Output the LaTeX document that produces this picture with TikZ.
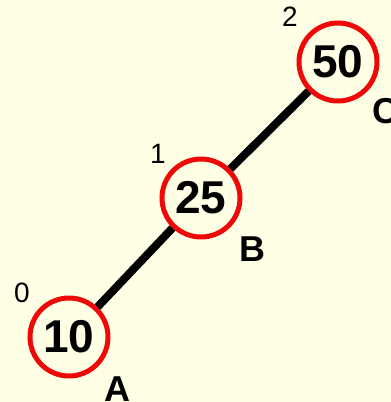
\documentclass[tikz,border=0pt]{standalone}
\usepackage{fontspec}
\setmainfont{Liberation Sans}
\usepackage{xcolor}
\definecolor{treebg}{RGB}{255,255,230}
\definecolor{treered}{RGB}{238,8,8}
\usetikzlibrary{positioning}

\tikzset{
  keynode/.style={circle, draw=treered, line width=5pt, fill=treebg, minimum size=78pt, inner sep=0pt,
    font=\fontsize{46}{46}\selectfont\bfseries},
  heightlbl/.style={font=\fontsize{28}{28}\selectfont, inner sep=0pt},
  namelbl/.style={font=\fontsize{36}{36}\selectfont\bfseries, inner sep=0pt},
  edge/.style={line width=8pt, black}
}

\begin{document}
\begin{tikzpicture}[x=1pt,y=-1pt]
  % background
  \fill[treebg] (0,0) rectangle (391,402);
  \useasboundingbox (0,0) rectangle (391,402);

  % --- Nodes ---
  \node[keynode] (A) at (69,337) {10};
  \node[keynode] (B) at (201,198) {25};
  \node[keynode] (C) at (338,62) {50};

  % --- Connectors ---
  \draw[edge] (A) -- (B);
  \draw[edge] (B) -- (C);

  % --- Heights ---
  \node[heightlbl] (hA) at (22,293) {0};
  \node[heightlbl] (hB) at (158,154) {1};
  \node[heightlbl] (hC) at (290,17) {2};

  % --- Names ---
  \node[namelbl] (nA) at (117,389) {A};
  \node[namelbl] (nB) at (252,249) {B};
  \node[namelbl] (nC) at (385,111) {C};
\end{tikzpicture}
\end{document}
